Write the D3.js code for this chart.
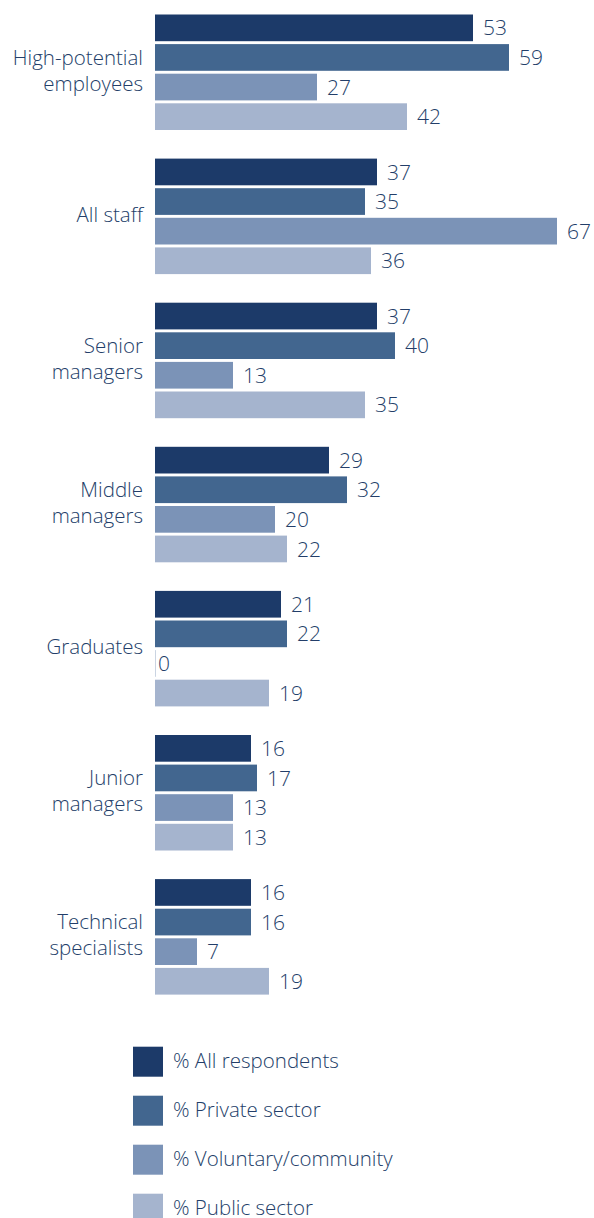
<!DOCTYPE html>
<html><head><meta charset="utf-8">
<script src="https://cdn.jsdelivr.net/npm/d3@7"></script>
<style>
html,body{margin:0;padding:0;background:#fff;}
text{font-family:"Open Sans","Noto Sans",sans-serif;font-weight:300;fill:#233e69;}
</style></head>
<body><svg id="c" width="594" height="1218"></svg>
<script>
const categories = [["High-potential","employees"],["All staff"],["Senior","managers"],["Middle","managers"],["Graduates"],["Junior","managers"],["Technical","specialists"]];
const seriesNames = ["% All respondents","% Private sector","% Voluntary/community","% Public sector"];
const allRespondents = [53,37,37,29,21,16,16];
const privateSector = [59,35,40,32,22,17,16];
const voluntary = [27,67,13,20,0,13,7];
const publicSector = [42,36,35,22,19,13,19];
const colors = ["#1c3a69","#42668f","#7b93b7","#a5b4ce"];

const series = [allRespondents, privateSector, voluntary, publicSector];
const svg = d3.select("#c");
const x = d3.scaleLinear().domain([0,67]).range([155,557]);
const step = 144.1, band = 115.5;
const y0 = d3.scaleBand().domain(d3.range(categories.length))
  .range([14.5, 14.5 + step*(categories.length-1) + band])
  .paddingInner((step-band)/step).paddingOuter(0).align(0);
const y1 = d3.scaleBand().domain(d3.range(4)).range([0, y0.bandwidth()]).paddingInner(0.098).paddingOuter(0);

const g = svg.selectAll("g.grp").data(categories).join("g").attr("class","grp")
  .attr("transform",(d,i)=>`translate(0,${y0(i)})`);

g.each(function(cat,i){
  const gg = d3.select(this);
  const vals = series.map((s,k)=>({k, v:s[i]}));
  gg.selectAll("rect").data(vals).join("rect")
    .attr("x",x(0)).attr("y",d=>y1(d.k))
    .attr("width",d=>Math.max(0,x(d.v)-x(0))).attr("height",y1.bandwidth())
    .attr("fill",d=>colors[d.k]);
  gg.selectAll("line.zero").data(vals.filter(d=>d.v===0)).join("line").attr("class","zero")
    .attr("x1",x(0)+0.5).attr("x2",x(0)+0.5).attr("y1",d=>y1(d.k)).attr("y2",d=>y1(d.k)+y1.bandwidth())
    .attr("stroke",colors[2]).attr("stroke-opacity",0.4);
  gg.selectAll("text.val").data(vals).join("text").attr("class","val")
    .attr("x",d=>x(d.v)+(d.v===0?3:10)).attr("y",d=>y1(d.k)+y1.bandwidth()/2)
    .attr("dy","0.36em").attr("font-size",21).text(d=>d.v);
  const lh = 26;
  const cy = y0.bandwidth()/2 - 2;
  gg.append("text").attr("text-anchor","end").attr("x",143).attr("font-size",20.5)
    .selectAll("tspan").data(cat).join("tspan")
    .attr("x",143).attr("y",(d,j)=>cy + (j-(cat.length-1)/2)*lh).attr("dy","0.36em").text(d=>d);
});

const leg = svg.selectAll("g.leg").data(seriesNames).join("g").attr("class","leg")
  .attr("transform",(d,i)=>`translate(133,${1046.7+i*49})`);
leg.append("rect").attr("width",30).attr("height",30).attr("fill",(d,i)=>colors[i]);
leg.append("text").attr("x",40).attr("y",14).attr("dy","0.36em").attr("font-size",20.5).text(d=>d);
</script></body></html>
